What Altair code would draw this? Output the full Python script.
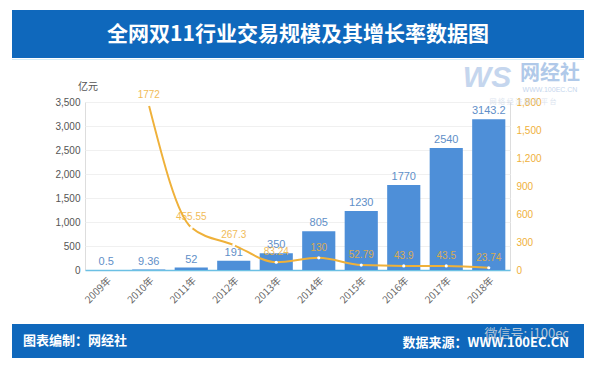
import altair as alt
import pandas as pd

years = ["2009年", "2010年", "2011年", "2012年", "2013年", "2014年", "2015年", "2016年", "2017年", "2018年"]
gmv = [0.5, 9.36, 52, 191, 350, 805, 1230, 1770, 2540, 3143.2]
gmv_text = ["0.5", "9.36", "52", "191", "350", "805", "1230", "1770", "2540", "3143.2"]
growth_years = ["2010年", "2011年", "2012年", "2013年", "2014年", "2015年", "2016年", "2017年", "2018年"]
growth = [1772, 455.55, 267.3, 83.24, 130, 52.79, 43.9, 43.5, 23.74]
growth_text = ["1772", "455.55", "267.3", "83.24", "130", "52.79", "43.9", "43.5", "23.74"]
left_ticks = [0, 500, 1000, 1500, 2000, 2500, 3000, 3500]
right_ticks = [0, 300, 600, 900, 1200, 1500, 1800]

title = "全网双11行业交易规模及其增长率数据图"
unit = "亿元"
footer_left = "图表编制：网经社"
footer_right = "数据来源：WWW.100EC.CN"

BAR = "#4e8fd8"
ORANGE = "#efb13a"
NAVY = "#0f68bc"
FONT = "Noto Sans CJK SC"

df_bar = pd.DataFrame({"year": years, "gmv": gmv, "label": gmv_text})
df_line = pd.DataFrame({"year": growth_years, "growth": growth, "label": growth_text})

xscale = alt.Scale(paddingInner=0.22, paddingOuter=0.11)
xaxis = alt.Axis(labelAngle=-45, labelFontSize=10, labelColor="#666666",
                 labelFont=FONT, ticks=False, domainColor="#6cc0e4",
                 domainWidth=1.5, labelPadding=5, grid=False)
def X():
    return alt.X("year:N", sort=years, title=None, scale=xscale, axis=xaxis)

yleft = alt.Scale(domain=[0, 3500], nice=False)
yright = alt.Scale(domain=[0, 1800], nice=False)
fmt = "format(datum.value, ',')"
yaxis_left = alt.Axis(values=left_ticks, labelExpr=fmt, labelFontSize=10,
                      labelColor="#555555", labelFont="Liberation Sans",
                      domain=False, ticks=False, grid=True, gridColor="#f0f0f0",
                      labelPadding=5)
yaxis_right = alt.Axis(orient="right", values=right_ticks, labelExpr=fmt, labelFontSize=10,
                       labelColor=ORANGE, labelFont="Liberation Sans",
                       domain=False, ticks=False, grid=False, labelPadding=6)
def YL():
    return alt.Y("gmv:Q", scale=yleft, title=None, axis=yaxis_left)
def YR():
    return alt.Y("growth:Q", scale=yright, title=None, axis=yaxis_right)

bars = alt.Chart(df_bar).mark_bar(color=BAR).encode(x=X(), y=YL())
bar_text = alt.Chart(df_bar).mark_text(color="#5f8fc8", fontSize=11, dy=-8,
                                        font="Liberation Sans").encode(
    x=X(), y=YL(), text="label:N")

line = alt.Chart(df_line).mark_line(color=ORANGE, strokeWidth=2, interpolate="monotone").encode(
    x=X(), y=YR())
pts = alt.Chart(df_line).mark_point(filled=True, color="white", size=10, opacity=1).encode(
    x=X(), y=YR())
line_text = alt.Chart(df_line).mark_text(color=ORANGE, fontSize=10, dy=-10,
                                          font="Liberation Sans", opacity=0.85).encode(
    x=X(), y=YR(), text="label:N")

one = pd.DataFrame({"k": [0]})

def rect(x, x2, y, y2, color):
    return alt.Chart(one).mark_rect(color=color).encode(
        x=alt.value(x), x2=alt.value(x2), y=alt.value(y), y2=alt.value(y2))

def txt(s, x, y, size, color, align="center", weight="normal", font=FONT, opacity=1.0, italic=False):
    return alt.Chart(one).mark_text(text=s, fontSize=size, color=color, align=align,
                                    baseline="middle", fontWeight=weight, font=font,
                                    opacity=opacity,
                                    fontStyle="italic" if italic else "normal").encode(
        x=alt.value(x), y=alt.value(y))

deco_back = [
    rect(-73, 499, -92, -44, NAVY),
    rect(-73, 499, -43, -42, "#d4ecf7"),
    txt("WS", 402, -24, 30, "#b7cdea", weight="bold", font="Liberation Sans", italic=True, opacity=0.8),
    txt("网经社", 465, -28, 20, "#9dbce4", weight="bold", opacity=0.8),
    txt("WWW.100EC.CN", 465, -12, 7, "#b7cdea", font="Liberation Sans", opacity=0.8),
    txt("网 络 经 济 服 务 平 台", 438, 0, 7, "#c6d3e6", opacity=0.6),
]
deco_front = [
    txt(title, 213, -67, 21, "white", weight="bold"),
    rect(-73, 499, 222, 256, NAVY),
    txt(footer_left, -62, 239, 13, "white", align="left", weight="bold"),
    txt(footer_right, 484, 241, 13, "white", align="right", weight="bold"),
    txt("微信号: i100ec", 484, 232, 13, "#dddddd", align="right", opacity=0.8),
    txt(unit, 3, -15, 10, "#555555"),
]

main = alt.layer(
    alt.layer(bars, bar_text),
    alt.layer(line, pts, line_text),
).resolve_scale(y="independent")

chart = alt.layer(*deco_back, main, *deco_front).properties(
    width=425, height=168,
    autosize=alt.AutoSizeParams(type="none"),
    padding={"left": 77, "top": 94, "right": 78, "bottom": 91},
).configure_view(strokeWidth=0).configure(background="white").configure_axisY(
    domain=False, ticks=False
).configure_axisX(ticks=False)

chart.save("out.html", embed_options={"renderer": "svg", "actions": False})
